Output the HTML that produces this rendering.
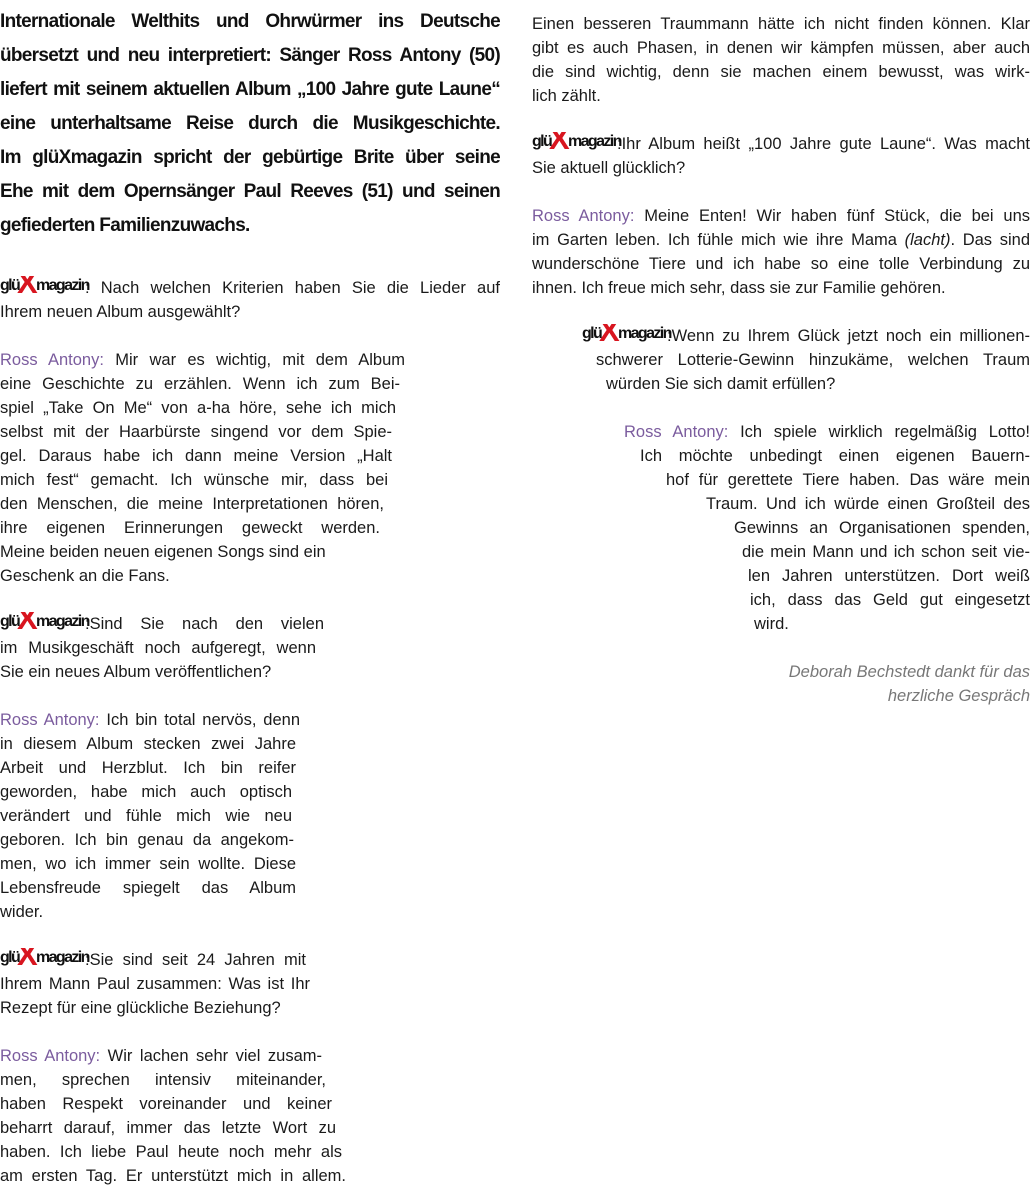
<!DOCTYPE html>
<html><head><meta charset="utf-8"><style>
html,body{margin:0;padding:0;background:#fff}
body{width:1032px;height:1200px;position:relative;overflow:hidden;font-family:"Liberation Sans",sans-serif;color:#1a1a1a}
.l{position:absolute;height:24px;line-height:24px;font-size:16.5px;white-space:nowrap}
.j{text-align:justify;text-align-last:justify;white-space:normal;overflow:hidden}
.h{position:absolute;left:0;width:500px;height:34px;line-height:34px;font-size:19px;font-weight:bold;letter-spacing:-0.7px;text-align:justify;text-align-last:justify;color:#111;overflow:hidden}
.p{color:#7b5c9e}
.g{display:inline-block;position:relative;width:84px;height:20px;vertical-align:-3px;margin-right:1px}
.g b{position:absolute;top:0;font:bold 16px/20px "Liberation Sans",sans-serif;letter-spacing:-1.6px;color:#111}
.g i{position:absolute;left:17px;top:-9px;font:bold 31px/31px "Liberation Sans",sans-serif;color:#d8151f;font-style:normal}
.it{font-style:italic;color:#777;text-align:right}
</style></head><body>
<div class="h" style="top:5px">Internationale Welthits und Ohrwürmer ins Deutsche</div>
<div class="h" style="top:39px">übersetzt und neu interpretiert: Sänger Ross Antony (50)</div>
<div class="h" style="top:73px">liefert mit seinem aktuellen Album „100 Jahre gute Laune“</div>
<div class="h" style="top:107px">eine unterhaltsame Reise durch die Musikgeschichte.</div>
<div class="h" style="top:141px">Im glüXmagazin spricht der gebürtige Brite über seine</div>
<div class="h" style="top:175px">Ehe mit dem Opernsänger Paul Reeves (51) und seinen</div>
<div class="h" style="top:209px;text-align-last:left">gefiederten Familienzuwachs.</div>

<div class="l j" style="top:276px;left:0;width:500px"><span class="g"><b style="left:0">glü</b><i>X</i><b style="left:36px">magazin</b></span>: Nach welchen Kriterien haben Sie die Lieder auf</div>
<div class="l" style="top:300px;left:0">Ihrem neuen Album ausgewählt?</div>

<div class="l j" style="top:348px;left:0;width:405px"><span class="p">Ross Antony:</span> Mir war es wichtig, mit dem Album</div>
<div class="l j" style="top:372px;left:0;width:400px">eine Geschichte zu erzählen. Wenn ich zum Bei-</div>
<div class="l j" style="top:396px;left:0;width:396px">spiel „Take On Me“ von a-ha höre, sehe ich mich</div>
<div class="l j" style="top:420px;left:0;width:392px">selbst mit der Haarbürste singend vor dem Spie-</div>
<div class="l j" style="top:444px;left:0;width:392px">gel. Daraus habe ich dann meine Version „Halt</div>
<div class="l j" style="top:468px;left:0;width:388px">mich fest“ gemacht. Ich wünsche mir, dass bei</div>
<div class="l j" style="top:492px;left:0;width:384px">den Menschen, die meine Interpretationen hören,</div>
<div class="l j" style="top:516px;left:0;width:380px">ihre eigenen Erinnerungen geweckt werden.</div>
<div class="l" style="top:540px;left:0">Meine beiden neuen eigenen Songs sind ein</div>
<div class="l" style="top:564px;left:0">Geschenk an die Fans.</div>

<div class="l j" style="top:612px;left:0;width:324px"><span class="g"><b style="left:0">glü</b><i>X</i><b style="left:36px">magazin</b></span>:Sind Sie nach den vielen Jahren</div>
<div class="l j" style="top:636px;left:0;width:316px">im Musikgeschäft noch aufgeregt, wenn</div>
<div class="l" style="top:660px;left:0">Sie ein neues Album veröffentlichen?</div>

<div class="l j" style="top:708px;left:0;width:300px"><span class="p">Ross Antony:</span> Ich bin total nervös, denn</div>
<div class="l j" style="top:732px;left:0;width:296px">in diesem Album stecken zwei Jahre</div>
<div class="l j" style="top:756px;left:0;width:296px">Arbeit und Herzblut. Ich bin reifer</div>
<div class="l j" style="top:780px;left:0;width:292px">geworden, habe mich auch optisch</div>
<div class="l j" style="top:804px;left:0;width:292px">verändert und fühle mich wie neu</div>
<div class="l j" style="top:828px;left:0;width:294px">geboren. Ich bin genau da angekom-</div>
<div class="l j" style="top:852px;left:0;width:296px">men, wo ich immer sein wollte. Diese</div>
<div class="l j" style="top:876px;left:0;width:296px">Lebensfreude spiegelt das Album</div>
<div class="l" style="top:900px;left:0">wider.</div>

<div class="l j" style="top:948px;left:0;width:306px"><span class="g"><b style="left:0">glü</b><i>X</i><b style="left:36px">magazin</b></span>:Sie sind seit 24 Jahren mit</div>
<div class="l j" style="top:972px;left:0;width:310px">Ihrem Mann Paul zusammen: Was ist Ihr</div>
<div class="l" style="top:996px;left:0">Rezept für eine glückliche Beziehung?</div>

<div class="l j" style="top:1044px;left:0;width:322px"><span class="p">Ross Antony:</span> Wir lachen sehr viel zusam-</div>
<div class="l j" style="top:1068px;left:0;width:326px">men, sprechen intensiv miteinander,</div>
<div class="l j" style="top:1092px;left:0;width:332px">haben Respekt voreinander und keiner</div>
<div class="l j" style="top:1116px;left:0;width:336px">beharrt darauf, immer das letzte Wort zu</div>
<div class="l j" style="top:1140px;left:0;width:342px">haben. Ich liebe Paul heute noch mehr als</div>
<div class="l j" style="top:1164px;left:0;width:346px">am ersten Tag. Er unterstützt mich in allem.</div>

<div class="l j" style="top:12px;left:532px;width:498px">Einen besseren Traummann hätte ich nicht finden können. Klar</div>
<div class="l j" style="top:36px;left:532px;width:498px">gibt es auch Phasen, in denen wir kämpfen müssen, aber auch</div>
<div class="l j" style="top:60px;left:532px;width:498px">die sind wichtig, denn sie machen einem bewusst, was wirk-</div>
<div class="l" style="top:84px;left:532px">lich zählt.</div>

<div class="l j" style="top:132px;left:532px;width:498px"><span class="g"><b style="left:0">glü</b><i>X</i><b style="left:36px">magazin</b></span>:Ihr Album heißt „100 Jahre gute Laune“. Was macht</div>
<div class="l" style="top:156px;left:532px">Sie aktuell glücklich?</div>

<div class="l j" style="top:204px;left:532px;width:498px"><span class="p">Ross Antony:</span> Meine Enten! Wir haben fünf Stück, die bei uns</div>
<div class="l j" style="top:228px;left:532px;width:498px">im Garten leben. Ich fühle mich wie ihre Mama <i>(lacht)</i>. Das sind</div>
<div class="l j" style="top:252px;left:532px;width:498px">wunderschöne Tiere und ich habe so eine tolle Verbindung zu</div>
<div class="l" style="top:276px;left:532px">ihnen. Ich freue mich sehr, dass sie zur Familie gehören.</div>

<div class="l j" style="top:324px;left:582px;width:448px"><span class="g"><b style="left:0">glü</b><i>X</i><b style="left:36px">magazin</b></span>:Wenn zu Ihrem Glück jetzt noch ein millionen-</div>
<div class="l j" style="top:348px;left:596px;width:434px">schwerer Lotterie-Gewinn hinzukäme, welchen Traum</div>
<div class="l" style="top:372px;left:606px">würden Sie sich damit erfüllen?</div>

<div class="l j" style="top:420px;left:624px;width:406px"><span class="p">Ross Antony:</span> Ich spiele wirklich regelmäßig Lotto!</div>
<div class="l j" style="top:444px;left:640px;width:390px">Ich möchte unbedingt einen eigenen Bauern-</div>
<div class="l j" style="top:468px;left:666px;width:364px">hof für gerettete Tiere haben. Das wäre mein</div>
<div class="l j" style="top:492px;left:706px;width:324px">Traum. Und ich würde einen Großteil des</div>
<div class="l j" style="top:516px;left:734px;width:296px">Gewinns an Organisationen spenden,</div>
<div class="l j" style="top:540px;left:742px;width:288px">die mein Mann und ich schon seit vie-</div>
<div class="l j" style="top:564px;left:748px;width:282px">len Jahren unterstützen. Dort weiß</div>
<div class="l j" style="top:588px;left:750px;width:280px">ich, dass das Geld gut eingesetzt</div>
<div class="l" style="top:612px;left:754px">wird.</div>

<div class="l it" style="top:660px;left:630px;width:400px">Deborah Bechstedt dankt für das</div>
<div class="l it" style="top:684px;left:630px;width:400px">herzliche Gespräch</div>
</body></html>
